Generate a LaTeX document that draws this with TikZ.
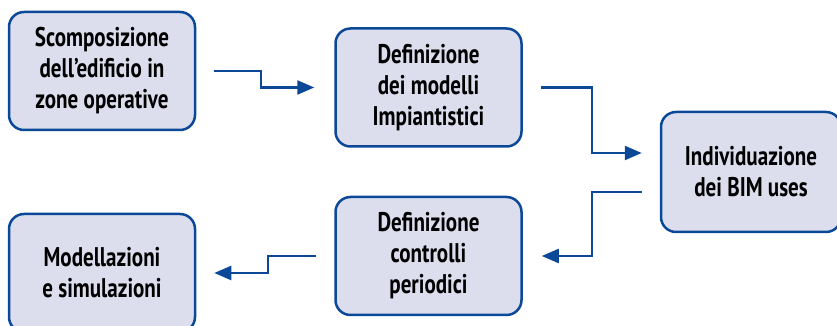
\documentclass[tikz,border=0pt]{standalone}
\usepackage{fontspec}
\setmainfont{PT Sans}[FakeStretch=0.78]
\usepackage{tikz}
\usetikzlibrary{arrows.meta,positioning,calc}
\definecolor{cFill}{RGB}{220,222,238}
\definecolor{cEdge}{RGB}{12,72,152}
\tikzset{
  stepbox/.style={rectangle,rounded corners=7.5pt,draw=cEdge,line width=1.25pt,
                  fill=cFill,align=center,minimum width=93pt,minimum height=59pt,
                  font=\fontsize{13.5}{15.5}\selectfont\bfseries},
  arr/.style={-{Triangle[length=8.5pt,width=7pt]},line width=1.2pt,color=cEdge}
}
\begin{document}
\begin{tikzpicture}

  \useasboundingbox (0,0) rectangle (418.5pt,-163pt);

  \node[stepbox] (scomp) at (51pt,-35.5pt)
      {Scomposizione\\dell'edificio in\\zone operative};
  \node[stepbox, right=69pt of scomp, yshift=-8.25pt] (defmod)
      {Definizione\\dei modelli\\Impiantistici};
  \node[stepbox, minimum width=90pt, minimum height=60pt,
        right=68.5pt of defmod, yshift=-42.25pt] (indiv)
      {Individuazione\\dei BIM uses};
  \node[stepbox, below=24pt of defmod] (defcon)
      {Definizione\\controlli\\periodici};
  \node[stepbox, left=69pt of defcon, yshift=-8.5pt] (model)
      {Modellazioni\\e simulazioni};

  \draw[arr] ([xshift=9pt]scomp.east) -- ++(23.5pt,0) |- ([xshift=-10pt]defmod.west);
  \draw[arr] ([xshift=9pt]defmod.east) -- ++(25.5pt,0) |- ([xshift=-9pt,yshift=9.5pt]indiv.west);
  \draw[arr] ([xshift=-9pt,yshift=-10pt]indiv.west) -- ++(-25pt,0) |- ([xshift=9.5pt]defcon.east);
  \draw[arr] ([xshift=-9pt]defcon.west) -- ++(-24pt,0) |- ([xshift=9pt]model.east);

\end{tikzpicture}
\end{document}
